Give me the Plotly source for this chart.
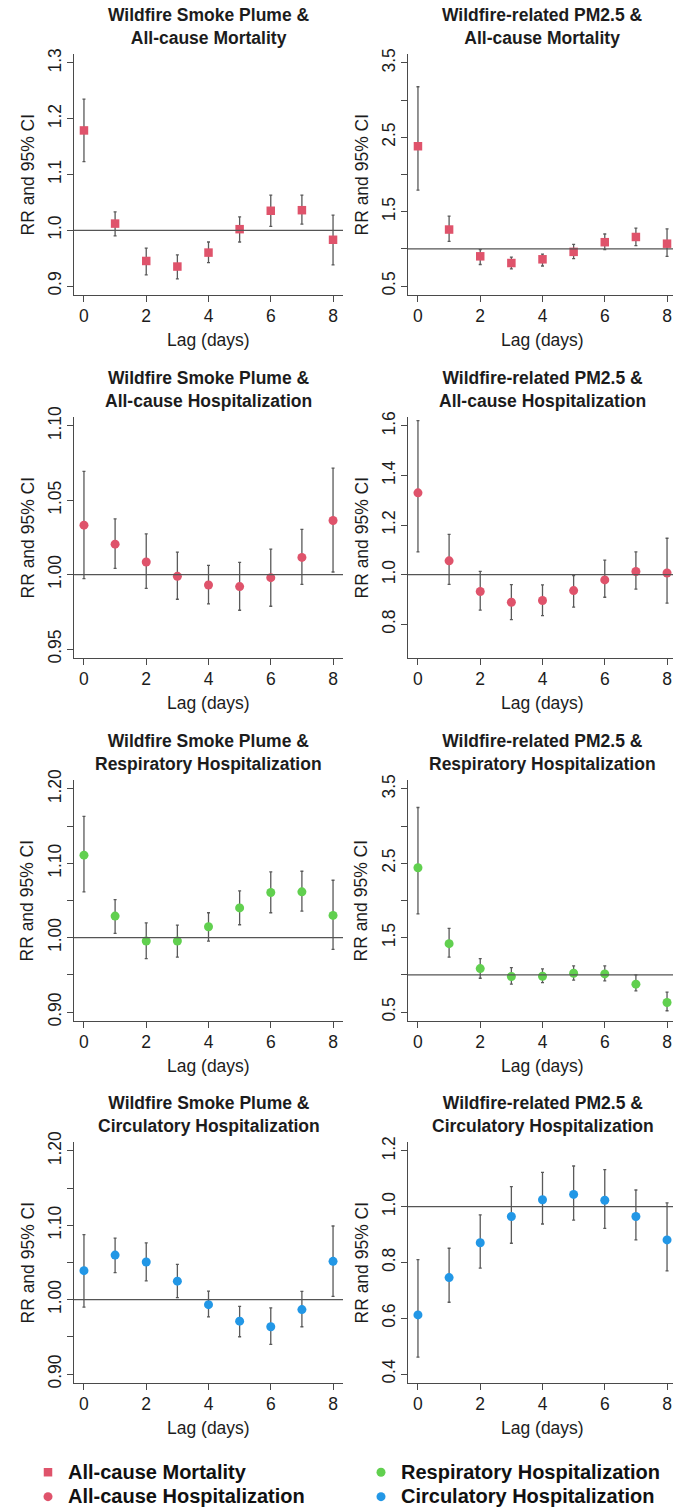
import plotly.graph_objects as go

# ---------------- data ----------------
lags = [0, 1, 2, 3, 4, 5, 6, 7, 8]

smoke_mort_rr = [1.179, 1.012, 0.945, 0.935, 0.960, 1.002, 1.035, 1.036, 0.983]
smoke_mort_lo = [1.123, 0.990, 0.920, 0.913, 0.942, 0.979, 1.007, 1.011, 0.938]
smoke_mort_hi = [1.235, 1.033, 0.968, 0.956, 0.979, 1.024, 1.063, 1.063, 1.027]

pm_mort_rr = [2.38, 1.26, 0.90, 0.81, 0.86, 0.96, 1.09, 1.16, 1.07]
pm_mort_lo = [1.79, 1.10, 0.79, 0.73, 0.77, 0.87, 0.99, 1.045, 0.90]
pm_mort_hi = [3.18, 1.44, 0.99, 0.89, 0.93, 1.06, 1.20, 1.28, 1.27]

smoke_allhosp_rr = [1.0333, 1.0205, 1.0085, 0.9989, 0.9931, 0.9920, 0.9980, 1.0116, 1.0364]
smoke_allhosp_lo = [0.9973, 1.0042, 0.9908, 0.9835, 0.9804, 0.9761, 0.9788, 0.9935, 1.0018]
smoke_allhosp_hi = [1.0694, 1.0375, 1.0275, 1.0152, 1.0063, 1.0083, 1.0172, 1.0304, 1.0717]

pm_allhosp_rr = [1.330, 1.056, 0.932, 0.889, 0.896, 0.936, 0.979, 1.013, 1.007]
pm_allhosp_lo = [1.092, 0.961, 0.857, 0.819, 0.835, 0.869, 0.909, 0.942, 0.885]
pm_allhosp_hi = [1.621, 1.163, 1.013, 0.960, 0.959, 0.996, 1.059, 1.092, 1.147]

smoke_resp_rr = [1.111, 1.029, 0.9955, 0.9955, 1.0147, 1.040, 1.0607, 1.0616, 1.030]
smoke_resp_lo = [1.0616, 1.0058, 0.9719, 0.974, 0.9955, 1.0174, 1.0335, 1.0357, 0.9844]
smoke_resp_hi = [1.163, 1.0513, 1.020, 1.017, 1.0335, 1.063, 1.0884, 1.0893, 1.0772]

pm_resp_rr = [2.44, 1.42, 1.085, 0.978, 0.982, 1.022, 1.013, 0.875, 0.629]
pm_resp_lo = [1.82, 1.24, 0.955, 0.875, 0.897, 0.929, 0.92, 0.786, 0.518]
pm_resp_hi = [3.25, 1.625, 1.219, 1.098, 1.080, 1.12, 1.12, 1.00, 0.768]

smoke_circ_rr = [1.039, 1.060, 1.0507, 1.0249, 0.9933, 0.9711, 0.9636, 0.9867, 1.0516]
smoke_circ_lo = [0.990, 1.0364, 1.0253, 1.0027, 0.9769, 0.9502, 0.940, 0.9636, 1.0044]
smoke_circ_hi = [1.0876, 1.0827, 1.0764, 1.0476, 1.0116, 0.9911, 0.9889, 1.0111, 1.0991]

pm_circ_rr = [0.612, 0.746, 0.871, 0.965, 1.025, 1.044, 1.023, 0.965, 0.881]
pm_circ_lo = [0.461, 0.6575, 0.780, 0.869, 0.938, 0.952, 0.922, 0.881, 0.770]
pm_circ_hi = [0.810, 0.851, 0.971, 1.072, 1.123, 1.146, 1.133, 1.060, 1.014]

panel_titles = [
    "Wildfire Smoke Plume &<br>All-cause Mortality",
    "Wildfire-related PM2.5 &<br>All-cause Mortality",
    "Wildfire Smoke Plume &<br>All-cause Hospitalization",
    "Wildfire-related PM2.5 &<br>All-cause Hospitalization",
    "Wildfire Smoke Plume &<br>Respiratory Hospitalization",
    "Wildfire-related PM2.5 &<br>Respiratory Hospitalization",
    "Wildfire Smoke Plume &<br>Circulatory Hospitalization",
    "Wildfire-related PM2.5 &<br>Circulatory Hospitalization",
]
outcome_names = ["All-cause Mortality", "All-cause Hospitalization",
                 "Respiratory Hospitalization", "Circulatory Hospitalization"]

x_ticks = [0, 2, 4, 6, 8]
x_lim = [0, 8]

yt_p1 = [0.9, 1.0, 1.1, 1.2, 1.3]
yl_p1 = ["0.9", "1.0", "1.1", "1.2", "1.3"]
yt_big = [0.5, 1.0, 1.5, 2.0, 2.5, 3.0, 3.5]
yl_big = ["0.5", "", "1.5", "", "2.5", "", "3.5"]
yt_p3 = [0.95, 1.00, 1.05, 1.10]
yl_p3 = ["0.95", "1.00", "1.05", "1.10"]
yt_p4 = [0.8, 1.0, 1.2, 1.4, 1.6]
yl_p4 = ["0.8", "1.0", "1.2", "1.4", "1.6"]
yt_fine = [0.90, 0.95, 1.00, 1.05, 1.10, 1.15, 1.20]
yl_fine = ["0.90", "", "1.00", "", "1.10", "", "1.20"]
yt_p8 = [0.4, 0.6, 0.8, 1.0, 1.2]
yl_p8 = ["0.4", "0.6", "0.8", "1.0", "1.2"]

y_lims = [(0.9, 1.3), (0.5, 3.5), (0.95, 1.10), (0.7, 1.6),
          (0.9, 1.2), (0.5, 3.5), (0.9, 1.2), (0.4, 1.2)]
reference_rr = 1.0

# ---------------- style ----------------
W, H = 673, 1510
FONT = "Liberation Sans, Arial, sans-serif"
TXT = "#1c1c1c"
AX = "#4a4a4a"
RED = "#DF536B"
GREEN = "#61D04F"
BLUE = "#2297E6"

panels = [
    (smoke_mort_rr, smoke_mort_lo, smoke_mort_hi, RED, "square", 0, yt_p1, yl_p1),
    (pm_mort_rr, pm_mort_lo, pm_mort_hi, RED, "square", None, yt_big, yl_big),
    (smoke_allhosp_rr, smoke_allhosp_lo, smoke_allhosp_hi, RED, "circle", 1, yt_p3, yl_p3),
    (pm_allhosp_rr, pm_allhosp_lo, pm_allhosp_hi, RED, "circle", None, yt_p4, yl_p4),
    (smoke_resp_rr, smoke_resp_lo, smoke_resp_hi, GREEN, "circle", 2, yt_fine, yl_fine),
    (pm_resp_rr, pm_resp_lo, pm_resp_hi, GREEN, "circle", None, yt_big, yl_big),
    (smoke_circ_rr, smoke_circ_lo, smoke_circ_hi, BLUE, "circle", 3, yt_fine, yl_fine),
    (pm_circ_rr, pm_circ_lo, pm_circ_hi, BLUE, "circle", None, yt_p8, yl_p8),
]

ROW_TOP = [54, 417, 780, 1142]
ROW_H = 241
COL_LEFT = [74, 408]
COL_W = 269
EXP = 0.04

fig = go.Figure()
layout = dict(
    width=W, height=H,
    margin=dict(l=0, r=0, t=0, b=0, pad=0, autoexpand=False),
    paper_bgcolor="white", plot_bgcolor="white",
    font=dict(family=FONT, size=17.5, color=TXT),
    annotations=[], shapes=[],
)

xspan = x_lim[1] - x_lim[0]
x0 = x_lim[0] - EXP * xspan
x1_full = x_lim[1] + EXP * xspan
px_per_unit = COL_W / (x1_full - x0)

for i, (rr, lo, hi, col, sym, leg_idx, yt, yl) in enumerate(panels):
    r, c = divmod(i, 2)
    n = i + 1
    xa = "x" if n == 1 else f"x{n}"
    ya = "y" if n == 1 else f"y{n}"
    left = COL_LEFT[c]
    right = min(left + COL_W, W)
    top = ROW_TOP[r]
    bottom = top + ROW_H
    x1 = x0 + (right - left) / px_per_unit
    ylo, yhi = y_lims[i]
    ys = yhi - ylo
    yr = [ylo - EXP * ys, yhi + EXP * ys]

    err_plus = [h - m for h, m in zip(hi, rr)]
    err_minus = [m - l for m, l in zip(rr, lo)]

    # CI whiskers
    fig.add_trace(go.Scatter(
        x=lags, y=rr, mode="markers", xaxis=xa, yaxis=ya,
        marker=dict(size=9, color="rgba(0,0,0,0)"),
        error_y=dict(type="data", symmetric=False, array=err_plus,
                     arrayminus=err_minus, color="#5a5a5a",
                     thickness=1.3, width=1.5),
        showlegend=False, hoverinfo="skip",
    ))
    # point estimates
    show = leg_idx is not None
    fig.add_trace(go.Scatter(
        x=lags, y=rr, mode="markers", xaxis=xa, yaxis=ya,
        marker=dict(size=9 if sym == "circle" else 8.5, color=col, symbol=sym),
        name=('<span style="font-size:20px"><b>' + outcome_names[leg_idx]
              + "</b></span>") if show else "",
        showlegend=show,
        legend=("legend" if (show and leg_idx < 2) else "legend2"),
    ))

    axis_common = dict(
        showline=True, linecolor=AX, linewidth=1.2, ticks="outside",
        ticklen=6, tickwidth=1.2, tickcolor=AX, showgrid=False,
        zeroline=False, tickfont=dict(size=17.5, color=TXT, family=FONT),
    )
    layout["xaxis" if n == 1 else f"xaxis{n}"] = dict(
        axis_common, domain=[left / W, right / W], range=[x0, x1],
        anchor=ya, tickvals=x_ticks, ticktext=[str(t) for t in x_ticks],
        ticklabelstandoff=-1,
    )
    layout["yaxis" if n == 1 else f"yaxis{n}"] = dict(
        axis_common, domain=[1 - bottom / H, 1 - top / H], range=yr,
        anchor=xa, tickvals=yt, ticktext=yl, tickangle=-90,
        ticklabelstandoff=-1,
    )
    # reference line at RR = 1
    layout["shapes"].append(dict(
        type="line", xref=f"{xa} domain", yref=ya, x0=0, x1=1,
        y0=reference_rr, y1=reference_rr,
        line=dict(color="#555555", width=1.3),
    ))
    cx = (left + left + COL_W) / 2 / W
    # panel title
    layout["annotations"].append(dict(
        text="<b>" + panel_titles[i].replace("<br>", "</b><br><b>") + "</b>",
        xref="paper", yref="paper", x=cx, y=1 - (top - 27.5) / H,
        xanchor="center", yanchor="middle", showarrow=False,
        font=dict(size=17.5, color=TXT, family=FONT),
    ))
    # x title
    layout["annotations"].append(dict(
        text="Lag (days)", xref="paper", yref="paper",
        x=cx, y=1 - (bottom + 45) / H, xanchor="center", yanchor="middle",
        showarrow=False, font=dict(size=17.5, color=TXT, family=FONT),
    ))
    # y title
    layout["annotations"].append(dict(
        text="RR and 95% CI", xref="paper", yref="paper",
        x=(left - 47) / W, y=1 - (top + ROW_H / 2) / H, textangle=-90,
        xanchor="center", yanchor="middle", showarrow=False,
        font=dict(size=17.5, color=TXT, family=FONT),
    ))

legend_common = dict(
    xanchor="left", yanchor="middle", orientation="v",
    bgcolor="rgba(0,0,0,0)", borderwidth=0, tracegroupgap=0,
    font=dict(size=16.5, color="#111111", family=FONT),
    itemclick=False, itemdoubleclick=False,
)
layout["legend"] = dict(legend_common, x=28 / W, y=1 - 1484.5 / H)
layout["legend2"] = dict(legend_common, x=361 / W, y=1 - 1484.5 / H)
layout["showlegend"] = True

fig.update_layout(**layout)
fig.write_html("out.html")
